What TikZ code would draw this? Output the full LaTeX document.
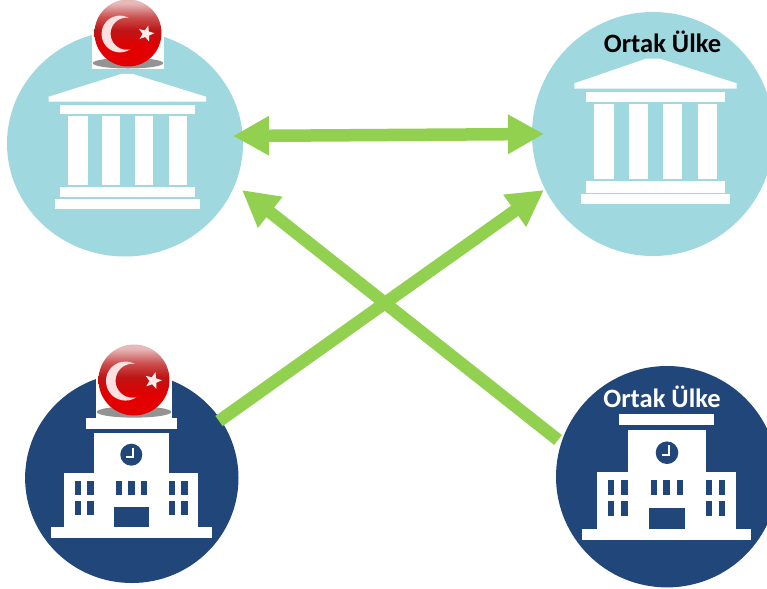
\documentclass[tikz,border=0pt]{standalone}
\usepackage{fontspec}
\setmainfont{Carlito}
\usetikzlibrary{arrows.meta,shapes.geometric}
\definecolor{teal}{HTML}{9FD8DF}
\definecolor{navy}{HTML}{21477A}
\definecolor{arrowgreen}{HTML}{92D050}
\definecolor{ballbottom}{HTML}{E20000}
\definecolor{ballmid}{HTML}{BE1414}
\definecolor{ballupper}{HTML}{CC5050}
\definecolor{balltop}{HTML}{E6B8B8}
\pgfdeclareverticalshading{flagshade}{100bp}{
  color(0bp)=(ballbottom);
  color(25bp)=(ballbottom);
  color(40bp)=(ballbottom);
  color(52bp)=(ballmid);
  color(62bp)=(ballupper);
  color(72bp)=(balltop);
  color(100bp)=(balltop)}
\newcommand\whitebar[4]{\fill[white] (#1,#2) rectangle (#3,#4);}
\newcommand\navybar[4]{\fill[navy] (#1,#2) rectangle (#3,#4);}
% name, white box l,t,r,b, ball cx,cy,r
\newcommand\flagball[8]{%
  \fill[white] (#2,#3) rectangle (#4,#5);
  \begin{scope}[shift={(#6,#7)},x=#8pt,y=-#8pt]
    \fill[gray!85] (0,0.9) ellipse (1.05 and 0.16);
    \shade[shading=flagshade] (0,0) circle (1);
    \begin{scope}[even odd rule]
      \clip (-1.2,-1.2) rectangle (1.2,1.2) (-0.04,0.02) circle (.48);
      \fill[white!88!red] (-.24,0.03) circle (.55);
    \end{scope}
    \node[star,star points=5,star point ratio=2.4,fill=white!92!red,inner sep=0pt,minimum size={0.5*#8 pt},rotate=-15] (#1star) at (.54,.02) {};
  \end{scope}}
\tikzset{
  disc/.style={ellipse,inner sep=0pt,outer sep=0pt},
  link/.style={draw=arrowgreen,line width=12.5pt},
  bigtip/.style={-{Triangle[length=36pt,width=37pt]}},
  label/.style={font=\bfseries\fontsize{26.5}{26.5}\selectfont,inner sep=0pt}
}
\begin{document}
\begin{tikzpicture}[x=1pt,y=-1pt]
\useasboundingbox (0,0) rectangle (767,588);
\clip (0,0) rectangle (767,588);
% discs
\node[disc,fill=teal,minimum width=236pt,minimum height=226pt] (tl) at (125,143.5) {};
\node[disc,fill=teal,minimum width=242pt,minimum height=244pt] (tr) at (653,134) {};
\node[disc,fill=navy,minimum width=213.4pt,minimum height=210pt] (bl) at (131.8,478) {};
\node[disc,fill=navy,minimum width=222pt,minimum height=221.4pt] (br) at (667,476.7) {};
% connector ends
\coordinate (htl) at (233,136);
\coordinate (htr) at (544,134);
\coordinate (bls) at (219,421);
\coordinate (trt) at (544,190);
\coordinate (brs) at (558,440);
\coordinate (tlt) at (242,190);
\draw[link,{Triangle[length=36pt,width=37pt]}-{Triangle[length=36pt,width=37pt]}] (htl) -- (htr);
\draw[link,bigtip] (bls) -- (trt);
\draw[link,bigtip] (brs) -- (tlt);
% temple, top left
\fill[white] (48.7,96.7) -- (48.7,101.7) -- (206,101.7) -- (206,96.7) -- (133,74) -- (121,74) -- cycle;
\whitebar{60}{105}{194.7}{114}
\whitebar{68.3}{115.7}{87.7}{185.3}
\whitebar{102.3}{115.7}{120.3}{185.3}
\whitebar{134.7}{115.7}{152.7}{185.3}
\whitebar{168.7}{115.7}{186.7}{185.3}
\whitebar{60}{187.3}{194.7}{197.3}
\whitebar{55}{199.3}{200}{209}
% temple, top right
\fill[white] (574.3,83.3) -- (574.3,88.7) -- (736.7,88.7) -- (736.7,83.3) -- (660,58.7) -- (646,58.7) -- cycle;
\whitebar{585.7}{92}{725}{102}
\whitebar{594.3}{103.7}{614.3}{179.3}
\whitebar{629.3}{103.7}{648}{179.3}
\whitebar{663}{103.7}{681.7}{179.3}
\whitebar{698}{103.7}{716.7}{179.3}
\whitebar{585.7}{181}{725}{192.7}
\whitebar{580.7}{194.3}{730}{204.3}
\node[label,text=black] (trlabel) at (662.5,41.5) {Ortak Ülke};
% school, bottom left
\whitebar{86}{418.3}{177}{428.7}
\whitebar{94}{433.3}{169.3}{475}
\whitebar{64.3}{472.7}{198.3}{527.5}
\whitebar{50.7}{527.3}{212.3}{537.7}
\fill[navy] (131.3,454.7) circle (11);
\draw[white,line width=2pt] (133,447.5) -- (133,456.5) -- (126,456.5);
\navybar{75}{481.3}{81.3}{495}
\navybar{87.3}{481.3}{93.7}{495}
\navybar{75}{500.7}{81.3}{514.7}
\navybar{87.3}{500.7}{93.7}{514.7}
\navybar{116}{481.3}{122.3}{495}
\navybar{128.3}{481.3}{134.7}{495}
\navybar{140.7}{481.3}{147}{495}
\navybar{169}{481.3}{175.3}{495}
\navybar{181.3}{481.3}{187.7}{495}
\navybar{169}{500.7}{175.3}{514.7}
\navybar{181.3}{500.7}{187.7}{514.7}
\navybar{114}{507.3}{149}{527.3}
% school, bottom right
\whitebar{619.3}{414.3}{714.3}{425.3}
\whitebar{627.7}{430.3}{706}{474}
\whitebar{597.3}{471.7}{736.3}{529.2}
\whitebar{582.3}{529}{751.3}{540}
\fill[navy] (667,452.7) circle (11.3);
\draw[white,line width=2pt] (668.5,445) -- (668.5,454.5) -- (661.5,454.5);
\navybar{608}{480.3}{614.3}{495.3}
\navybar{621.3}{480.3}{627.7}{495.3}
\navybar{608}{500.7}{614.3}{515.7}
\navybar{621.3}{500.7}{627.7}{515.7}
\navybar{650.7}{480.3}{657}{495.3}
\navybar{663.3}{480.3}{670}{495.3}
\navybar{676.7}{480.3}{683}{495.3}
\navybar{706}{480.3}{712.3}{495.3}
\navybar{719}{480.3}{725.3}{495.3}
\navybar{706}{500.7}{712.3}{515.7}
\navybar{719}{500.7}{725.3}{515.7}
\navybar{648.7}{507.7}{685}{529}
\node[label,text=white] (brlabel) at (662,397.2) {Ortak Ülke};
% flags
\flagball{fa}{92}{1}{164}{69}{128}{33}{33.5}
\flagball{fb}{96}{345}{172}{418}{134}{380}{35.5}
\end{tikzpicture}
\end{document}
